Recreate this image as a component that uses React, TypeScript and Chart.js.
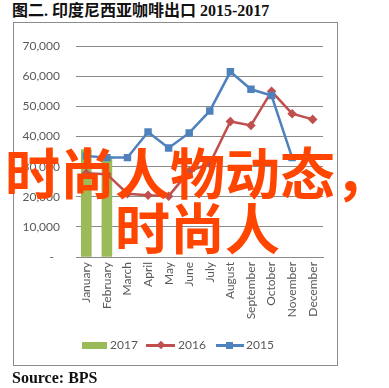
import React, { useEffect, useRef } from "react";
import { Chart, registerables } from "chart.js";

Chart.register(...registerables);

const titleText = "图二. 印度尼西亚咖啡出口 2015-2017";
const sourceText = "Source: BPS";
const watermarkLine1 = "时尚人物动态，";
const watermarkLine2 = "时尚人";

const months = [
  "January",
  "February",
  "March",
  "April",
  "May",
  "June",
  "July",
  "August",
  "September",
  "October",
  "November",
  "December",
];

const seriesNames = ["2017", "2016", "2015"];
const exports2017 = [35700, 33300, null, null, null, null, null, null, null, null, null, null];
const exports2016 = [27800, 27500, 21000, 20500, 20200, 28500, 31000, 45000, 43700, 55000, 47600, 45700];
const exports2015 = [33500, 33000, 33000, 41500, 36200, 41200, 48500, 61500, 55700, 53600, 33000, null];

const yMin = 0;
const yMax = 70000;
const yStep = 10000;

const GREEN = "#9BBB59";
const RED = "#C0504D";
const BLUE = "#4F81BD";
const GRID = "#8a8a8a";
const TEXT = "#595959";

export default function App() {
  const canvasRef = useRef<HTMLCanvasElement | null>(null);

  useEffect(() => {
    document.body.style.margin = "0";
    const canvas = canvasRef.current;
    if (!canvas) return;
    const chart = new Chart(canvas, {
      type: "bar",
      data: {
        labels: months,
        datasets: [
          {
            type: "bar",
            label: seriesNames[0],
            data: exports2017,
            backgroundColor: GREEN,
            barThickness: 10,
            order: 3,
          },
          {
            type: "line",
            label: seriesNames[1],
            data: exports2016,
            borderColor: RED,
            backgroundColor: RED,
            borderWidth: 2.5,
            pointStyle: "rectRot",
            pointRadius: 3,
            pointBackgroundColor: RED,
            pointBorderColor: RED,
            tension: 0,
            spanGaps: false,
            order: 2,
          },
          {
            type: "line",
            label: seriesNames[2],
            data: exports2015,
            borderColor: BLUE,
            backgroundColor: BLUE,
            borderWidth: 2.5,
            pointStyle: "rect",
            pointRadius: 3.5,
            pointBackgroundColor: BLUE,
            pointBorderColor: BLUE,
            tension: 0,
            spanGaps: false,
            order: 1,
          },
        ],
      },
      options: {
        animation: false,
        responsive: true,
        maintainAspectRatio: false,
        events: [],
        layout: { padding: { left: 0, right: 14, top: 13, bottom: 0 } },
        plugins: {
          legend: { display: false },
          tooltip: { enabled: false },
          title: { display: false },
        },
        scales: {
          x: {
            offset: true,
            grid: { display: false, drawTicks: false },
            border: { display: true, color: GRID, width: 1 },
            ticks: {
              minRotation: 90,
              maxRotation: 90,
              autoSkip: false,
              padding: 5,
              color: TEXT,
              font: { family: "Lato", size: 12 },
            },
            afterFit: (scale: any) => {
              scale.height = 108;
            },
          },
          y: {
            min: yMin,
            max: yMax,
            ticks: {
              stepSize: yStep,
              padding: 16,
              color: TEXT,
              font: { family: "Lato", size: 12 },
              callback: (v: any) =>
                Number(v) === 0 ? "-  " : Number(v).toLocaleString("en-US"),
            },
            grid: { color: GRID, lineWidth: 1, drawTicks: false },
            border: { display: false },
            afterFit: (scale: any) => {
              scale.width = 62;
            },
          },
        },
      },
    });
    return () => chart.destroy();
  }, []);

  const legendText: React.CSSProperties = {
    position: "absolute",
    top: 337,
    fontFamily: "Lato",
    fontSize: 12,
    lineHeight: "16px",
    color: TEXT,
  };

  const wm: React.CSSProperties = {
    position: "absolute",
    fontFamily: '"Noto Sans CJK SC"',
    fontWeight: 700,
    fontSize: 55,
    lineHeight: "55px",
    color: "#FF4500",
    whiteSpace: "nowrap",
  };

  return (
    <div
      style={{
        position: "fixed",
        left: 0,
        top: 0,
        width: 389,
        height: 388,
        background: "#fff",
        overflow: "hidden",
      }}
    >
      <div
        style={{
          position: "absolute",
          left: 12,
          top: 3,
          fontFamily: '"Liberation Serif", "Noto Sans CJK SC"',
          fontWeight: 700,
          fontSize: 16,
          lineHeight: "16px",
          color: "#111",
          whiteSpace: "nowrap",
        }}
      >
        {titleText}
      </div>
      <div
        style={{
          position: "absolute",
          left: 13,
          top: 22,
          width: 325,
          height: 344,
          border: "1px solid #8c8c8c",
          boxSizing: "border-box",
        }}
      >
        <div style={{ position: "absolute", left: 0, top: 0, width: 323, height: 342 }}>
          <canvas ref={canvasRef} />
        </div>
      </div>
      {/* legend */}
      <div style={{ position: "absolute", left: 82, top: 342, width: 25, height: 7, background: GREEN }} />
      <div style={{ ...legendText, left: 110 }}>{seriesNames[0]}</div>
      <div style={{ position: "absolute", left: 146, top: 344, width: 29, height: 3, background: RED }} />
      <div
        style={{
          position: "absolute",
          left: 158,
          top: 342,
          width: 6,
          height: 6,
          background: RED,
          transform: "rotate(45deg)",
        }}
      />
      <div style={{ ...legendText, left: 178 }}>{seriesNames[1]}</div>
      <div style={{ position: "absolute", left: 216, top: 344, width: 28, height: 3, background: BLUE }} />
      <div style={{ position: "absolute", left: 226, top: 342, width: 7, height: 7, background: BLUE }} />
      <div style={{ ...legendText, left: 246 }}>{seriesNames[2]}</div>
      <div
        style={{
          position: "absolute",
          left: 12,
          top: 370,
          fontFamily: '"Liberation Serif"',
          fontWeight: 700,
          fontSize: 16,
          lineHeight: "16px",
          color: "#111",
          whiteSpace: "nowrap",
        }}
      >
        {sourceText}
      </div>
      <div style={{ ...wm, left: 5, top: 143 }}>{watermarkLine1}</div>
      <div style={{ ...wm, left: 115, top: 198 }}>{watermarkLine2}</div>
    </div>
  );
}
